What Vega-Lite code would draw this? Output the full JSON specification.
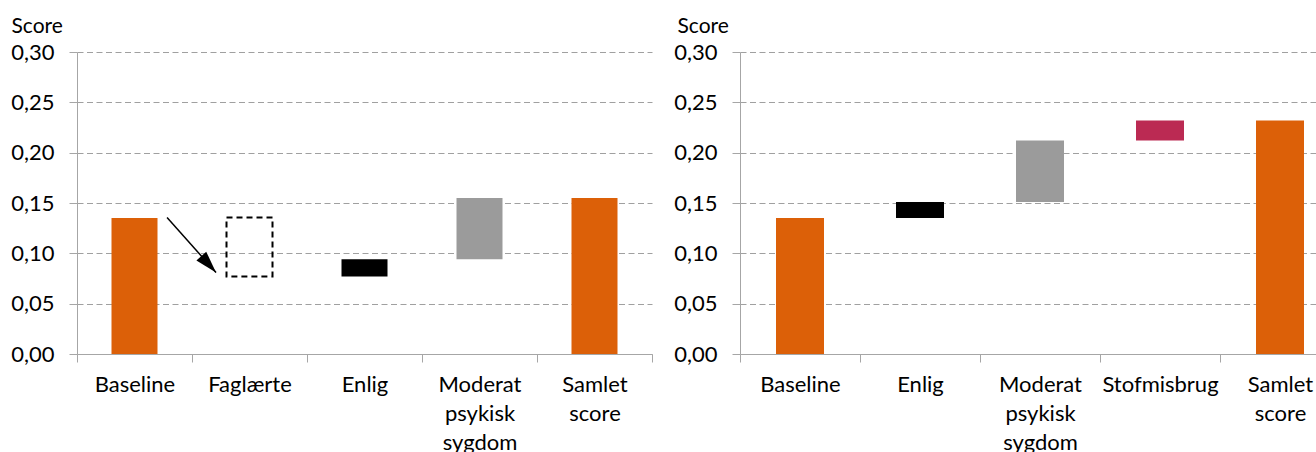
{
  "$schema": "https://vega.github.io/schema/vega-lite/v6.json",
  "padding": {"left": 10, "top": 15, "right": 0, "bottom": 0},
  "spacing": 20,
  "config": {
    "view": {"stroke": null},
    "font": "Lato",
    "axis": {
      "labelFont": "Lato", "labelFontSize": 22, "labelColor": "#000000",
      "titleFont": "Lato", "titleFontSize": 21, "titleFontWeight": "normal", "titleColor": "#000000",
      "domainColor": "#A6A6A6", "tickColor": "#A6A6A6", "tickSize": 8,
      "gridColor": "#A0A0A0", "gridDash": [6, 3.5]
    },
    "axisY": {"labelPadding": 15, "titleAngle": 0, "titleAlign": "left", "titleBaseline": "alphabetic", "grid": true},
    "axisX": {"labelAngle": 0, "tickBand": "extent", "labelPadding": 12, "labelLineHeight": 29, "labelExpr": "split(datum.label, ' ')", "grid": false, "title": null}
  },
  "datasets": {
    "venstre": [
      {"kategori": "Baseline", "fra": 0, "til": 0.135},
      {"kategori": "Faglærte", "fra": 0.077, "til": 0.1355},
      {"kategori": "Enlig", "fra": 0.077, "til": 0.094},
      {"kategori": "Moderat psykisk sygdom", "fra": 0.094, "til": 0.155},
      {"kategori": "Samlet score", "fra": 0, "til": 0.155}
    ],
    "pil": [
      {"x0": 0.783, "y0": 0.1355, "x1": 1.209, "y1": 0.081}
    ],
    "hoejre": [
      {"kategori": "Baseline", "fra": 0, "til": 0.135},
      {"kategori": "Enlig", "fra": 0.135, "til": 0.151},
      {"kategori": "Moderat psykisk sygdom", "fra": 0.151, "til": 0.212},
      {"kategori": "Stofmisbrug", "fra": 0.212, "til": 0.232},
      {"kategori": "Samlet score", "fra": 0, "til": 0.232}
    ]
  },
  "hconcat": [
    {
      "width": 575,
      "height": 302,
      "layer": [
        {
          "data": {"name": "venstre"},
          "layer": [
            {
              "transform": [{"filter": "datum.kategori !== 'Faglærte'"}],
              "mark": {"type": "bar", "width": {"band": 0.4}},
              "encoding": {
                "x": {"field": "kategori", "type": "nominal", "sort": ["Baseline", "Faglærte", "Enlig", "Moderat psykisk sygdom", "Samlet score"], "scale": {"domain": ["Baseline", "Faglærte", "Enlig", "Moderat psykisk sygdom", "Samlet score"], "paddingInner": 0, "paddingOuter": 0}},
                "y": {"field": "fra", "type": "quantitative", "title": "Score", "scale": {"domain": [0, 0.3], "nice": false}, "axis": {"values": [0, 0.05, 0.1, 0.15, 0.2, 0.25, 0.3], "labelExpr": "replace(format(datum.value, '.2f'), '.', ',')", "titleX": -66, "titleY": -19.5}},
                "y2": {"field": "til"},
                "color": {"field": "kategori", "type": "nominal", "legend": null, "scale": {"domain": ["Baseline", "Enlig", "Moderat psykisk sygdom", "Stofmisbrug", "Samlet score"], "range": ["#DC6008", "#000000", "#9B9B9B", "#BB2A53", "#DC6008"]}}
              }
            },
            {
              "transform": [{"filter": "datum.kategori === 'Faglærte'"}],
              "mark": {"type": "bar", "width": {"band": 0.4}, "fill": "#ffffff", "fillOpacity": 0, "stroke": "#000000", "strokeWidth": 2, "strokeDash": [6, 4]},
              "encoding": {
                "x": {"field": "kategori", "type": "nominal", "sort": ["Baseline", "Faglærte", "Enlig", "Moderat psykisk sygdom", "Samlet score"]},
                "y": {"field": "fra", "type": "quantitative", "title": "Score"},
                "y2": {"field": "til"}
              }
            }
          ]
        },
        {
          "data": {"name": "pil"},
          "layer": [
            {
              "mark": {"type": "rule", "color": "#000000", "strokeWidth": 1.5},
              "encoding": {
                "x": {"field": "x0", "type": "quantitative", "scale": {"domain": [0, 5], "nice": false, "zero": false}, "axis": null},
                "x2": {"field": "x1"},
                "y": {"field": "y0", "type": "quantitative", "title": "Score"},
                "y2": {"field": "y1"}
              }
            },
            {
              "mark": {"type": "point", "shape": "M0,0L0.6,2L-0.6,2Z", "filled": true, "color": "#000000", "opacity": 1, "size": 484, "angle": 138, "strokeWidth": 0},
              "encoding": {
                "x": {"field": "x1", "type": "quantitative", "scale": {"domain": [0, 5], "nice": false, "zero": false}, "axis": null},
                "y": {"field": "y1", "type": "quantitative", "title": "Score"}
              }
            }
          ]
        }
      ],
      "resolve": {"scale": {"x": "independent"}}
    },
    {
      "width": 600,
      "height": 302,
      "data": {"name": "hoejre"},
      "mark": {"type": "bar", "width": {"band": 0.4}},
      "encoding": {
        "x": {"field": "kategori", "type": "nominal", "sort": ["Baseline", "Enlig", "Moderat psykisk sygdom", "Stofmisbrug", "Samlet score"], "scale": {"paddingInner": 0, "paddingOuter": 0}},
        "y": {"field": "fra", "type": "quantitative", "title": "Score", "scale": {"domain": [0, 0.3], "nice": false}, "axis": {"values": [0, 0.05, 0.1, 0.15, 0.2, 0.25, 0.3], "labelExpr": "replace(format(datum.value, '.2f'), '.', ',')", "titleX": -63, "titleY": -19.5}},
        "y2": {"field": "til"},
        "color": {"field": "kategori", "type": "nominal", "legend": null, "scale": {"domain": ["Baseline", "Enlig", "Moderat psykisk sygdom", "Stofmisbrug", "Samlet score"], "range": ["#DC6008", "#000000", "#9B9B9B", "#BB2A53", "#DC6008"]}}
      }
    }
  ],
  "resolve": {"scale": {"color": "independent"}}
}
